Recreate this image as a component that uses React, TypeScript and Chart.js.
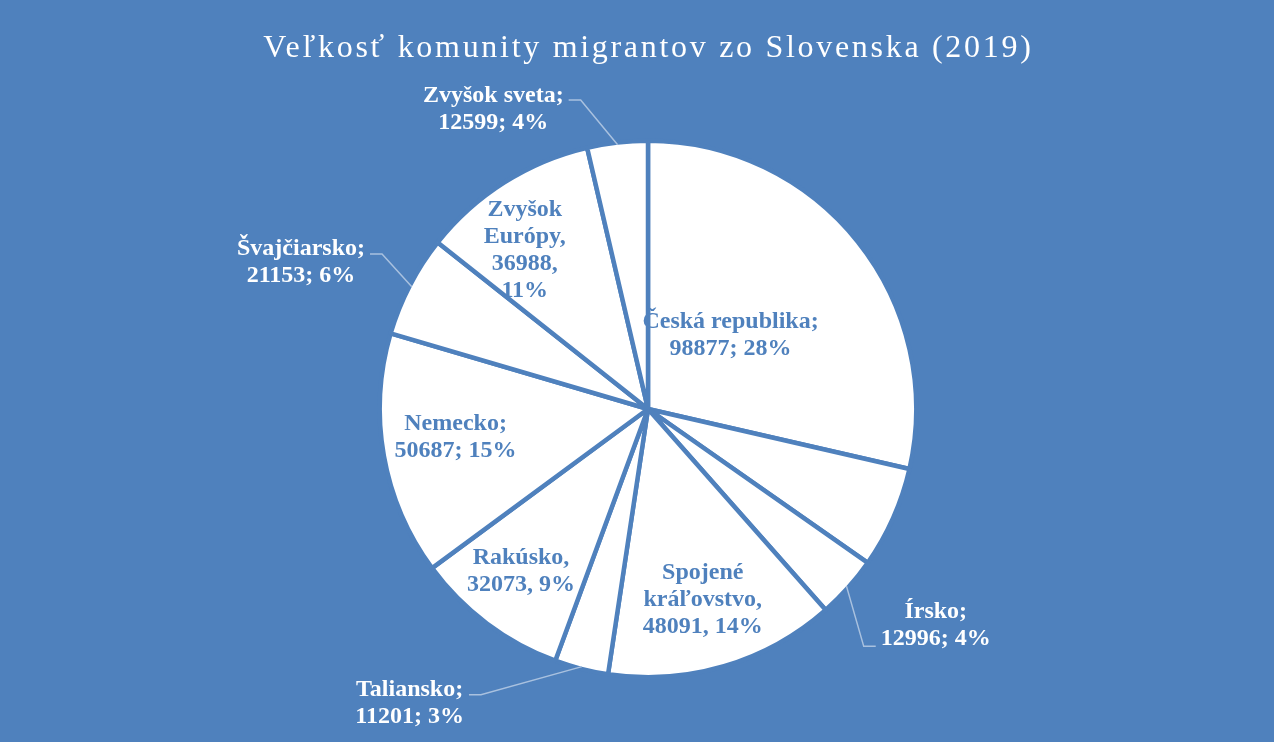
import React, { useEffect, useRef } from 'react';
import { Chart, registerables } from 'chart.js';

Chart.register(...registerables);

// ---------- data ----------
const TITLE = 'Veľkosť komunity migrantov zo Slovenska (2019)';
const categories = [
  'Česká republika',
  '',
  'Írsko',
  'Spojené kráľovstvo',
  'Taliansko',
  'Rakúsko',
  'Nemecko',
  'Švajčiarsko',
  'Zvyšok Európy',
  'Zvyšok sveta',
];
const values = [98877, 21200, 12996, 48091, 11201, 32073, 50687, 21153, 36988, 12599];
const percents = [28, 6, 4, 14, 3, 9, 15, 6, 11, 4];
const separators = [';', '', ';', ',', ';', ',', ';', ';', ',', ';'];

// ---------- styles / label layout ----------
const BG = '#4f81bd';
const SLICE = '#ffffff';
const LEADER = '#a9c1df';
const BORDER_W = 4.5;
const LABEL_FONT = 'bold 24px "Liberation Serif", "Times New Roman", serif';
const TITLE_FONT = '32px "Liberation Serif", "Times New Roman", serif';
const TITLE_SPACING = 2.7;
const LINE_H = 27;

type Wrap = 'two' | 'words' | 'all';
type LabelLayout = { inside: boolean; dAngle: number; rFrac: number; wrap: Wrap; leaderDy?: number } | null;

const labelLayout: LabelLayout[] = [
  { inside: true, dAngle: -3.8, rFrac: 0.42, wrap: 'two' },
  null,
  { inside: false, dAngle: -5.0, rFrac: 1.35, wrap: 'two', leaderDy: 22.5 },
  { inside: true, dAngle: 0.3, rFrac: 0.74, wrap: 'words' },
  { inside: false, dAngle: 24.8, rFrac: 1.418, wrap: 'two', leaderDy: -6.5 },
  { inside: true, dAngle: 1.4, rFrac: 0.77, wrap: 'two' },
  { inside: true, dAngle: 2.3, rFrac: 0.73, wrap: 'two' },
  { inside: false, dAngle: -4.2, rFrac: 1.419, wrap: 'two', leaderDy: -6.5 },
  { inside: true, dAngle: -5.2, rFrac: 0.76, wrap: 'all' },
  { inside: false, dAngle: -20.6, rFrac: 1.274, wrap: 'two', leaderDy: -7.5 },
];

function labelLines(i: number, wrap: Wrap): string[] {
  const name = categories[i];
  const sep = separators[i];
  const v = String(values[i]);
  const p = `${percents[i]}%`;
  const words = name.split(' ');
  if (wrap === 'two') return [name + sep, `${v}${sep} ${p}`];
  if (wrap === 'words') {
    const w = words.slice();
    w[w.length - 1] = w[w.length - 1] + sep;
    return [...w, `${v}${sep} ${p}`];
  }
  const w = words.slice();
  w[w.length - 1] = w[w.length - 1] + sep;
  return [...w, `${v}${sep}`, p];
}

const labelPlugin = {
  id: 'sliceLabels',
  afterDatasetsDraw(chart: any) {
    const ctx: CanvasRenderingContext2D = chart.ctx;
    const meta = chart.getDatasetMeta(0);
    ctx.save();
    ctx.font = LABEL_FONT;
    ctx.textAlign = 'center';
    ctx.textBaseline = 'alphabetic';
    meta.data.forEach((arc: any, i: number) => {
      const cfg = labelLayout[i];
      if (!cfg) return;
      const { x, y, startAngle, endAngle, outerRadius } = arc.getProps(
        ['x', 'y', 'startAngle', 'endAngle', 'outerRadius'],
        true
      );
      const rv = outerRadius - BORDER_W / 2;
      const mid = (startAngle + endAngle) / 2;
      const a = mid + (cfg.dAngle * Math.PI) / 180;
      const cx = x + Math.cos(a) * rv * cfg.rFrac;
      const cy = y + Math.sin(a) * rv * cfg.rFrac;
      const lines = labelLines(i, cfg.wrap);
      const n = lines.length;
      let maxW = 0;
      lines.forEach((l) => (maxW = Math.max(maxW, ctx.measureText(l).width)));
      if (!cfg.inside) {
        const px = x + Math.cos(mid) * rv;
        const py = y + Math.sin(mid) * rv;
        const ly = cy + (cfg.leaderDy || 0);
        const dir = cx < px ? 1 : -1;
        const ax = cx + dir * (maxW / 2 + 5);
        const ex = ax + dir * 12;
        ctx.strokeStyle = LEADER;
        ctx.lineWidth = 1.5;
        ctx.beginPath();
        ctx.moveTo(ax, ly);
        ctx.lineTo(ex, ly);
        ctx.lineTo(px, py);
        ctx.stroke();
      }
      ctx.fillStyle = cfg.inside ? BG : '#ffffff';
      lines.forEach((l, k) => {
        ctx.fillText(l, cx, cy + (k - (n - 1) / 2) * LINE_H + 8);
      });
    });
    // title
    const area = chart.chartArea;
    ctx.font = TITLE_FONT;
    ctx.fillStyle = '#ffffff';
    ctx.textAlign = 'center';
    (ctx as any).letterSpacing = `${TITLE_SPACING}px`;
    ctx.fillText(TITLE, (area.left + area.right) / 2 - 1 + TITLE_SPACING / 2, 57);
    ctx.restore();
  },
};

export default function App() {
  const ref = useRef<HTMLCanvasElement | null>(null);
  useEffect(() => {
    if (!ref.current) return;
    const chart = new Chart(ref.current, {
      type: 'pie',
      data: {
        labels: categories,
        datasets: [
          {
            data: values,
            backgroundColor: SLICE,
            borderColor: BG,
            borderWidth: BORDER_W,
            radius: 266 + BORDER_W / 2,
          } as any,
        ],
      },
      options: {
        animation: false,
        responsive: false,
        devicePixelRatio: 1,
        layout: { padding: { left: 22, top: 76, right: 0, bottom: 0 } },
        plugins: {
          legend: { display: false },
          tooltip: { enabled: false },
          title: { display: false },
        },
      },
      plugins: [labelPlugin],
    });
    return () => chart.destroy();
  }, []);
  return (
    <div style={{ position: 'fixed', left: 0, top: 0, width: 1274, height: 742, background: BG }}>
      <canvas ref={ref} width={1274} height={742} style={{ display: 'block' }} />
    </div>
  );
}
